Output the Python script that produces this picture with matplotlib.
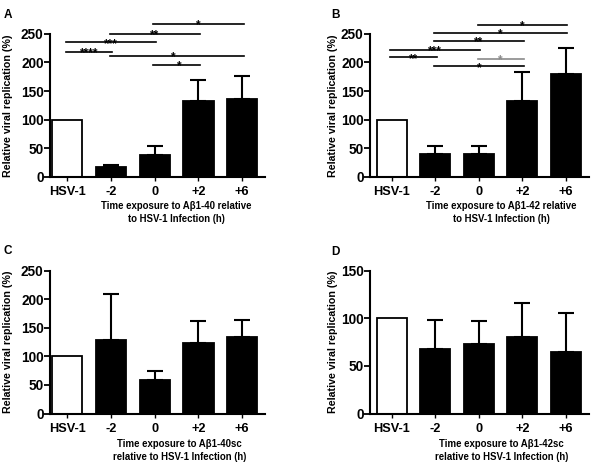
import matplotlib
matplotlib.use("Agg")
import matplotlib.pyplot as plt

plt.rcParams['font.family'] = ['Liberation Sans', 'DejaVu Sans']
plt.rcParams['font.weight'] = 'bold'

categories = ["HSV-1", "-2", "0", "+2", "+6"]

A_means = [100, 17, 38, 132, 136]
A_sem = [0, 4, 16, 38, 40]
B_means = [100, 39.5, 40.5, 132.5, 180]
B_sem = [0, 15, 13.5, 50, 45]
C_means = [100, 129, 58, 123, 133]
C_sem = [0, 80, 17, 39, 30]
D_means = [100, 68, 72.5, 80.5, 64]
D_sem = [0, 30, 25, 35.5, 41.5]

# significance comparisons: (from index, to index), height, label
A_sig_pairs = [(2, 4), (1, 3), (0, 2), (0, 1), (1, 4), (2, 3)]
A_sig_levels = [267, 250, 235, 218.5, 211, 196]
A_sig_labels = ["*", "**", "***", "****", "*", "*"]
B_sig_pairs = [(2, 4), (1, 4), (1, 3), (0, 2), (0, 1), (2, 3), (1, 3)]
B_sig_levels = [266, 252, 237, 221.5, 208.5, 205.5, 193]
B_sig_labels = ["*", "*", "**", "***", "**", "*", "*"]
B_sig_colors = ["black", "black", "black", "black", "black", "#8a8a8a", "black"]

A_xlabel = "Time exposure to A\u03b21-40 relative\nto HSV-1 Infection (h)"
B_xlabel = "Time exposure to A\u03b21-42 relative\nto HSV-1 Infection (h)"
C_xlabel = "Time exposure to A\u03b21-40sc\nrelative to HSV-1 Infection (h)"
D_xlabel = "Time exposure to A\u03b21-42sc\nrelative to HSV-1 Infection (h)"
ylabel = "Relative viral replication (%)"

W, H = 594, 468
fig = plt.figure(figsize=(W / 100, H / 100), dpi=100)


def make_ax(left_px, right_px, top_px, bottom_px):
    return fig.add_axes([left_px / W, 1 - bottom_px / H,
                         (right_px - left_px) / W, (bottom_px - top_px) / H])


def draw(ax, means, sem, xlim, ymax, yticks):
    x = list(range(len(categories)))
    colors = ["white"] + ["black"] * (len(categories) - 1)
    ax.bar(x, means, width=0.69, color=colors, edgecolor="black",
           linewidth=1.3, zorder=2)
    ax.errorbar(x[1:], means[1:], yerr=[[0] * (len(x) - 1), sem[1:]],
                fmt="none", ecolor="black", elinewidth=1.5, capsize=6,
                capthick=1.5, zorder=1)
    ax.set_xlim(*xlim)
    ax.set_ylim(0, ymax)
    ax.set_yticks(yticks)
    ax.set_xticks(x)
    ax.set_xticklabels(categories, fontsize=9.2, fontweight="bold")
    ax.tick_params(axis="y", labelsize=9.8, length=4, width=1.3, pad=0.3)
    ax.tick_params(axis="x", length=3, width=1, pad=3.5)
    for lab in ax.get_yticklabels():
        lab.set_fontweight("bold")
    for s in ["top", "right"]:
        ax.spines[s].set_visible(False)
    for s in ["left", "bottom"]:
        ax.spines[s].set_linewidth(1.5)


def draw_sig(ax, pairs, levels, labels, colors=None):
    placed = []
    for k, ((i, j), y, lab) in enumerate(zip(pairs, levels, labels)):
        c = colors[k] if colors else "black"
        ax.plot([i - 0.03, j + 0.03], [y, y], color=c, lw=1.2, clip_on=False,
                zorder=3)
        cx = (i + j) / 2
        dx = 0
        for (pcx, py, pann) in placed:
            if abs(pcx - cx) < 0.05 and abs(py - y) < 20:
                pann.xyann = (-2.3, pann.xyann[1])
                dx = 2.3
        ann = ax.annotate(lab, xy=(cx, y), xytext=(dx, -3.2),
                          textcoords="offset points", ha="center",
                          va="baseline", fontsize=8.5, fontweight="bold",
                          color=c, annotation_clip=False)
        placed.append((cx, y, ann))


axA = make_ax(49.5, 265, 33.7, 177)
draw(axA, A_means, A_sem, (-0.40, 4.52), 250, [0, 50, 100, 150, 200, 250])
draw_sig(axA, A_sig_pairs, A_sig_levels, A_sig_labels)

axB = make_ax(369.5, 589, 33.7, 177)
draw(axB, B_means, B_sem, (-0.51, 4.53), 250, [0, 50, 100, 150, 200, 250])
draw_sig(axB, B_sig_pairs, B_sig_levels, B_sig_labels, B_sig_colors)

axC = make_ax(49.5, 265, 270.5, 413.5)
draw(axC, C_means, C_sem, (-0.40, 4.52), 250, [0, 50, 100, 150, 200, 250])

axD = make_ax(369.5, 589, 270.5, 413.5)
draw(axD, D_means, D_sem, (-0.51, 4.53), 150, [0, 50, 100, 150])

# y labels
for ax, xpx in [(axA, 8.5), (axB, 333), (axC, 8.5), (axD, 333)]:
    pos = ax.get_position()
    fig.text(xpx / W, pos.y0 + pos.height / 2, ylabel, rotation=90,
             ha="center", va="center", fontsize=7.7, fontweight="bold")

# x labels
for txt, xc, yc in [(A_xlabel, 176, 212.5), (B_xlabel, 501, 212.5),
                    (C_xlabel, 179.5, 450.5), (D_xlabel, 501.5, 450.5)]:
    fig.text(xc / W, 1 - yc / H, txt, ha="center", va="center",
             fontsize=6.9, fontweight="bold", linespacing=1.3)

# panel letters
for lab, xp, yp in [("A", 8, 15), ("B", 335, 15), ("C", 8, 251), ("D", 335, 252)]:
    fig.text(xp / W, 1 - yp / H, lab, ha="center", va="center",
             fontsize=8.5, fontweight="bold")

fig.savefig("out.png", dpi=100)
